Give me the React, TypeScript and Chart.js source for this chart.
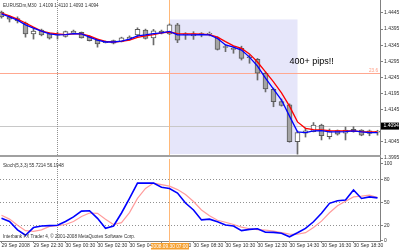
import React, { useEffect, useRef } from "react";
import { Chart, registerables } from "chart.js";

Chart.register(...registerables);

// ---------- data ----------
const timeTickBars = [0, 4, 8, 12, 16, 20, 24, 28, 32, 36, 40, 44];
const timeTickLabels = [
  "29 Sep 2008", "29 Sep 22:30", "30 Sep 00:30", "30 Sep 02:30", "30 Sep 04:30", "30 Sep 06:30",
  "30 Sep 08:30", "30 Sep 10:30", "30 Sep 12:30", "30 Sep 14:30", "30 Sep 16:30", "30 Sep 18:30",
];
const priceTicks = [1.4445, 1.4395, 1.4345, 1.4295, 1.4245, 1.4195, 1.4145, 1.4045, 1.3995];
const stochTicks = [100, 80, 50, 20, 0];
const stochLevels = [80, 50, 20];

const opens = [
  1.4448, 1.4433, 1.4428, 1.4414, 1.4380, 1.4392, 1.4381, 1.4377, 1.4372, 1.4382, 1.4385, 1.4371,
  1.4361, 1.4355, 1.4351, 1.4357, 1.4363, 1.4377, 1.4392, 1.4368, 1.4389, 1.4380, 1.4408, 1.4377,
  1.4374, 1.4380, 1.4379, 1.4368, 1.4340, 1.4334, 1.4335, 1.4308, 1.4301, 1.4258, 1.4208, 1.4170,
  1.4160, 1.4046, 1.4072, 1.4077, 1.4097, 1.4061, 1.4080, 1.4072, 1.4084, 1.4082, 1.4071, 1.4075,
];
const highs = [
  1.4451, 1.4436, 1.4433, 1.4417, 1.4398, 1.4395, 1.4383, 1.4386, 1.4389, 1.4392, 1.4386, 1.4374,
  1.4364, 1.4358, 1.4361, 1.4370, 1.4374, 1.4399, 1.4395, 1.4394, 1.4392, 1.4411, 1.4413, 1.4384,
  1.4387, 1.4384, 1.4386, 1.4371, 1.4346, 1.4340, 1.4342, 1.4315, 1.4304, 1.4262, 1.4212, 1.4178,
  1.4163, 1.4079, 1.4088, 1.4105, 1.4100, 1.4085, 1.4082, 1.4091, 1.4092, 1.4083, 1.4082, 1.4081,
];
const lows = [
  1.4429, 1.4417, 1.4414, 1.4370, 1.4364, 1.4374, 1.4364, 1.4364, 1.4370, 1.4380, 1.4367, 1.4358,
  1.4339, 1.4352, 1.4349, 1.4355, 1.4361, 1.4371, 1.4364, 1.4346, 1.4380, 1.4378, 1.4353, 1.4363,
  1.4363, 1.4371, 1.4374, 1.4330, 1.4325, 1.4320, 1.4299, 1.4289, 1.4237, 1.4200, 1.4154, 1.4156,
  1.4044, 1.4007, 1.4060, 1.4076, 1.4051, 1.4054, 1.4066, 1.4051, 1.4075, 1.4064, 1.4064, 1.4066,
];
const closes = [
  1.4433, 1.4426, 1.4420, 1.4380, 1.4389, 1.4377, 1.4367, 1.4376, 1.4387, 1.4389, 1.4368, 1.4359,
  1.4349, 1.4353, 1.4359, 1.4368, 1.4370, 1.4394, 1.4366, 1.4390, 1.4382, 1.4408, 1.4361, 1.4377,
  1.4380, 1.4378, 1.4380, 1.4332, 1.4338, 1.4332, 1.4304, 1.4306, 1.4258, 1.4209, 1.4170, 1.4158,
  1.4046, 1.4074, 1.4079, 1.4097, 1.4064, 1.4077, 1.4069, 1.4082, 1.4077, 1.4066, 1.4079, 1.4076,
];
const maRed = [
  1.4445, 1.4436, 1.4426, 1.4414, 1.4401, 1.4389, 1.4383, 1.4380, 1.4378, 1.4380, 1.4380, 1.4374,
  1.4364, 1.4357, 1.4355, 1.4357, 1.4361, 1.4369, 1.4374, 1.4378, 1.4383, 1.4386, 1.4381, 1.4380,
  1.4380, 1.4379, 1.4378, 1.4370, 1.4356, 1.4343, 1.4335, 1.4318, 1.4293, 1.4262, 1.4231, 1.4197,
  1.4156, 1.4107, 1.4087, 1.4083, 1.4082, 1.4080, 1.4079, 1.4079, 1.4079, 1.4077, 1.4076, 1.4076,
];
const maBlue = [
  1.4442, 1.4433, 1.4423, 1.4408, 1.4398, 1.4389, 1.4380, 1.4377, 1.4378, 1.4381, 1.4380, 1.4370,
  1.4361, 1.4355, 1.4355, 1.4358, 1.4364, 1.4374, 1.4377, 1.4381, 1.4383, 1.4388, 1.4377, 1.4377,
  1.4377, 1.4378, 1.4377, 1.4366, 1.4346, 1.4339, 1.4330, 1.4308, 1.4280, 1.4243, 1.4209, 1.4175,
  1.4125, 1.4076, 1.4074, 1.4079, 1.4080, 1.4076, 1.4076, 1.4077, 1.4079, 1.4076, 1.4074, 1.4074,
];
const stochMain = [
  29, 25, 14, 7, 17, 19, 19.5, 20, 25, 31, 38.5, 39,
  29, 16, 19, 36, 55, 75, 75, 75, 69.5, 68, 62, 49,
  40, 27, 28, 24.5, 20.3, 19, 13, 14.7, 15.5, 11, 10.8, 9.5,
  5, 10.3, 16, 24.6, 35.6, 48.6, 52, 53, 66, 55, 57, 55.7,
];
const stochSignal = [
  33, 28, 20, 13, 12, 14, 18.5, 19.5, 21, 25, 31.5, 36,
  35.5, 28, 21, 23.5, 36.5, 55, 68, 75, 73, 71, 66.5, 60,
  51, 40, 32.5, 26.5, 24, 21, 17.5, 15.5, 14.4, 13.7, 12.4, 10.4,
  8.4, 8.3, 10.4, 17, 25.4, 36.3, 45.4, 51.2, 57, 58, 59.3, 56.2,
];

const lastPrice = 1.4094;
const fibLevel = 1.4256;
const fibLabel = "23.6";
const rectBars = [21, 37];
const rectPrices = [1.4425, 1.4007];
const daySeparatorBar = 7;
const markerBar = 21;
const markerLabel = "2008.09.30 07:00";
const noteBar = 36;
const notePrice = 1.4294;
const noteText = "400+ pips!!";
const titleText = "EURUSDm,M30  1.4109 1.4110 1.4093 1.4094";
const stochText = "Stoch(5,3,3) 55.7214 56.1948";
const footerText = "Interbank FX Trader 4, \u00A9 2001-2008 MetaQuotes Software Corp.";

// ---------- layout / style ----------
const X_MIN = -0.1875;
const X_MAX = 47.3125;
const FONT = '"Liberation Sans", Arial, sans-serif';
const AXIS = "#808080";
const TEXT = "#303030";

function vline(ctx: any, x: number, y0: number, y1: number, color: string, dash: number[]) {
  ctx.save();
  ctx.strokeStyle = color;
  ctx.lineWidth = 1;
  ctx.setLineDash(dash);
  ctx.beginPath();
  ctx.moveTo(x, y0);
  ctx.lineTo(x, y1);
  ctx.stroke();
  ctx.restore();
}
function hline(ctx: any, x0: number, x1: number, y: number, color: string, dash: number[]) {
  ctx.save();
  ctx.strokeStyle = color;
  ctx.lineWidth = 1;
  ctx.setLineDash(dash);
  ctx.beginPath();
  ctx.moveTo(x0, y);
  ctx.lineTo(x1, y);
  ctx.stroke();
  ctx.restore();
}
const crisp = (v: number) => Math.floor(v) + 0.5;

const topOverlay = {
  id: "topOverlay",
  beforeDatasetsDraw(chart: any) {
    const { ctx, chartArea: a, scales } = chart;
    const x = scales.x;
    const y = scales.y;
    const rx0 = x.getPixelForValue(rectBars[0]);
    const rx1 = x.getPixelForValue(rectBars[1]);
    const ry0 = y.getPixelForValue(rectPrices[0]);
    const ry1 = y.getPixelForValue(rectPrices[1]);
    ctx.save();
    ctx.fillStyle = "#E6E6FA";
    ctx.fillRect(rx0, ry0, rx1 - rx0, ry1 - ry0);
    ctx.restore();
    hline(ctx, a.left, a.right, crisp(y.getPixelForValue(fibLevel)), "#FFA890", []);
    hline(ctx, a.left, a.right, crisp(y.getPixelForValue(lastPrice)), "#C8C8C8", []);
    vline(ctx, crisp(x.getPixelForValue(daySeparatorBar)), a.top, 155, "#909090", [1, 1]);
    vline(ctx, crisp(x.getPixelForValue(markerBar)), a.top, 155, "#FFB878", []);
  },
  afterDraw(chart: any) {
    const { ctx, chartArea: a, scales } = chart;
    const x = scales.x;
    const y = scales.y;
    ctx.save();
    ctx.textBaseline = "middle";
    ctx.textAlign = "left";
    ctx.fillStyle = TEXT;
    ctx.font = `4.6px ${FONT}`;
    ctx.fillText(titleText, 3, 5.5);
    ctx.fillStyle = "#000000";
    ctx.font = `9px ${FONT}`;
    ctx.fillText(noteText, x.getPixelForValue(noteBar), y.getPixelForValue(notePrice));
    ctx.fillStyle = "#FF9A80";
    ctx.font = `4.6px ${FONT}`;
    ctx.textAlign = "right";
    ctx.textBaseline = "alphabetic";
    ctx.fillText(fibLabel, a.right - 2, y.getPixelForValue(fibLevel) - 1.5);
    const py = y.getPixelForValue(lastPrice);
    ctx.fillStyle = "#000000";
    ctx.fillRect(a.right + 1, py - 3.5, 18, 7);
    ctx.fillStyle = "#FFFFFF";
    ctx.textAlign = "left";
    ctx.textBaseline = "middle";
    ctx.font = `5px ${FONT}`;
    ctx.fillText(lastPrice.toFixed(4), a.right + 3.5, py);
    ctx.restore();
  },
};

const stochOverlay = {
  id: "stochOverlay",
  beforeDatasetsDraw(chart: any) {
    const { ctx, chartArea: a, scales } = chart;
    const x = scales.x;
    const y = scales.y;
    stochLevels.forEach((lv) => hline(ctx, a.left, a.right, crisp(y.getPixelForValue(lv)), "#909090", [1, 2]));
    vline(ctx, crisp(x.getPixelForValue(daySeparatorBar)), a.top, a.bottom, "#909090", [1, 1]);
    vline(ctx, crisp(x.getPixelForValue(markerBar)), a.top, a.bottom + 2, "#FFB878", []);
  },
  afterDraw(chart: any) {
    const { ctx, chartArea: a, scales } = chart;
    const x = scales.x;
    ctx.save();
    ctx.textBaseline = "middle";
    ctx.textAlign = "left";
    ctx.fillStyle = TEXT;
    ctx.font = `4.6px ${FONT}`;
    ctx.fillText(stochText, 3, 6.7);
    ctx.fillText(footerText, 3, 78);
    const mx = x.getPixelForValue(markerBar);
    ctx.fillStyle = "#F5A030";
    ctx.fillRect(Math.round(mx - 19), a.bottom + 2, 38, 6.5);
    ctx.fillStyle = "#FFFFFF";
    ctx.textAlign = "center";
    ctx.font = `4.8px ${FONT}`;
    ctx.fillText(markerLabel, mx, a.bottom + 5.4);
    ctx.restore();
  },
};

export default function App() {
  const topRef = useRef<HTMLCanvasElement>(null);
  const stochRef = useRef<HTMLCanvasElement>(null);

  useEffect(() => {
    const idx = opens.map((_, i) => i);
    const bodyData = idx.map((i) => ({ x: i, y: [opens[i], closes[i]] }));
    const wickData = idx.map((i) => ({ x: i, y: [lows[i], highs[i]] }));
    const bodyColors = idx.map((i) => (closes[i] < opens[i] ? "#A4A4A4" : "#FFFFFF"));

    const top = new Chart(topRef.current as HTMLCanvasElement, {
      type: "bar",
      data: {
        datasets: [
          {
            type: "line",
            data: idx.map((i) => ({ x: i, y: maRed[i] })),
            borderColor: "#FF0000",
            borderWidth: 1.3,
            pointRadius: 0,
            tension: 0,
            order: 1,
          } as any,
          {
            type: "line",
            data: idx.map((i) => ({ x: i, y: maBlue[i] })),
            borderColor: "#0000FF",
            borderWidth: 1.3,
            pointRadius: 0,
            tension: 0,
            order: 0,
          } as any,
          {
            type: "bar",
            data: bodyData,
            backgroundColor: bodyColors,
            borderColor: "#5A5A5A",
            borderWidth: 1,
            borderSkipped: false,
            barThickness: 5,
            minBarLength: 1,
            grouped: false,
            order: 2,
          } as any,
          {
            type: "bar",
            data: wickData,
            backgroundColor: "#6A6A6A",
            borderWidth: 0,
            barThickness: 1,
            grouped: false,
            order: 3,
          } as any,
        ],
      },
      options: {
        animation: false,
        responsive: false,
        maintainAspectRatio: false,
        layout: { padding: { left: 0, right: 0, top: 0, bottom: 3 } },
        plugins: { legend: { display: false }, tooltip: { enabled: false } },
        scales: {
          x: { type: "linear", display: false, offset: false, min: X_MIN, max: X_MAX },
          y: {
            type: "linear",
            position: "right",
            min: 1.3995,
            max: 1.44853,
            afterBuildTicks: (s: any) => {
              s.ticks = priceTicks.map((v) => ({ value: v }));
            },
            afterFit: (s: any) => {
              s.width = 20;
              s.paddingTop = 0;
              s.paddingBottom = 0;
            },
            ticks: {
              font: { size: 5, family: FONT },
              color: TEXT,
              padding: 1,
              callback: (v: any) => Number(v).toFixed(4),
            },
            grid: { drawOnChartArea: false, tickLength: 3, color: AXIS },
            border: { color: AXIS, width: 1 },
          },
        },
      } as any,
      plugins: [topOverlay],
    });

    const stoch = new Chart(stochRef.current as HTMLCanvasElement, {
      type: "line",
      data: {
        datasets: [
          {
            data: idx.map((i) => ({ x: i, y: stochSignal[i] })),
            borderColor: "#FF9C9C",
            borderWidth: 1.2,
            pointRadius: 0,
            tension: 0,
            order: 1,
          },
          {
            data: idx.map((i) => ({ x: i, y: stochMain[i] })),
            borderColor: "#0000FF",
            borderWidth: 1.6,
            pointRadius: 0,
            tension: 0,
            order: 0,
          },
        ],
      },
      options: {
        animation: false,
        responsive: false,
        maintainAspectRatio: false,
        layout: { padding: 0 },
        plugins: { legend: { display: false }, tooltip: { enabled: false } },
        scales: {
          x: {
            type: "linear",
            position: "bottom",
            offset: false,
            min: X_MIN,
            max: X_MAX,
            afterBuildTicks: (s: any) => {
              s.ticks = timeTickBars.map((v) => ({ value: v }));
            },
            afterFit: (s: any) => {
              s.height = 9;
              s.paddingLeft = 0;
              s.paddingRight = 0;
            },
            ticks: {
              font: { size: 5, family: FONT },
              color: TEXT,
              padding: 0,
              align: "start",
              maxRotation: 0,
              minRotation: 0,
              autoSkip: false,
              callback: (v: any) => {
                const k = timeTickBars.indexOf(Number(v));
                return k >= 0 ? timeTickLabels[k] : "";
              },
            },
            grid: { drawOnChartArea: false, tickLength: 2, color: AXIS },
            border: { color: AXIS, width: 1 },
          },
          y: {
            type: "linear",
            position: "right",
            min: -0.5,
            max: 106.4,
            afterBuildTicks: (s: any) => {
              s.ticks = stochTicks.map((v) => ({ value: v }));
            },
            afterFit: (s: any) => {
              s.width = 20;
              s.paddingTop = 0;
              s.paddingBottom = 0;
            },
            ticks: {
              font: { size: 5, family: FONT },
              color: TEXT,
              padding: 1,
            },
            grid: { drawOnChartArea: false, tickLength: 3, color: AXIS },
            border: { color: AXIS, width: 1 },
          },
        },
      } as any,
      plugins: [stochOverlay],
    });

    return () => {
      top.destroy();
      stoch.destroy();
    };
  }, []);

  return (
    <div
      style={{
        position: "fixed",
        left: 0,
        top: 0,
        width: 400,
        height: 250,
        background: "#FFFFFF",
        overflow: "hidden",
      }}
    >
      <canvas
        ref={topRef}
        width={400}
        height={161}
        style={{ position: "absolute", left: 0, top: 0, width: 400, height: 161 }}
      />
      <div style={{ position: "absolute", left: 0, top: 155, width: 381, height: 2, background: "#A0A0A0" }} />
      <canvas
        ref={stochRef}
        width={400}
        height={91}
        style={{ position: "absolute", left: 0, top: 159, width: 400, height: 91 }}
      />
    </div>
  );
}
